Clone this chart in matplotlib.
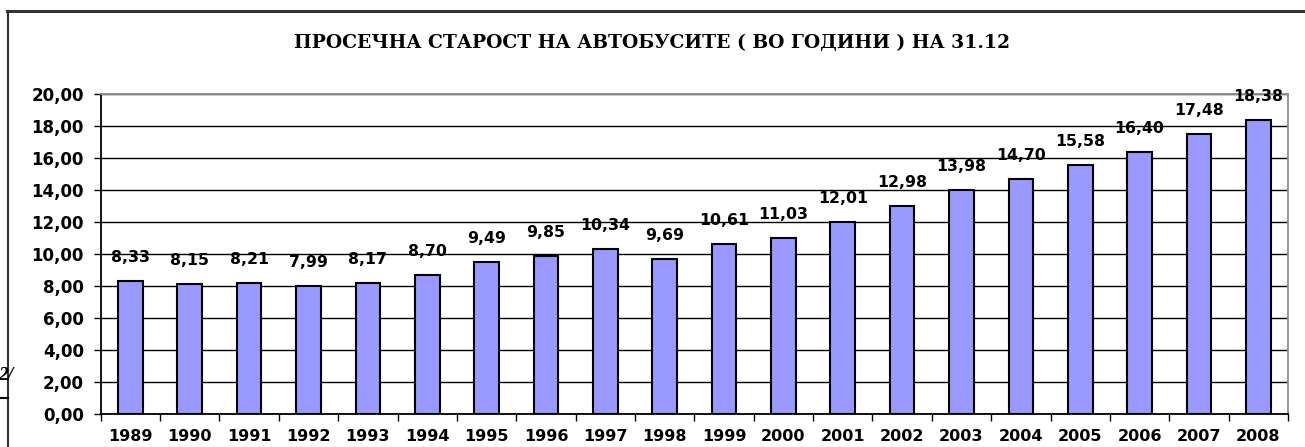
import matplotlib
matplotlib.use("Agg")
import matplotlib.pyplot as plt
from matplotlib.lines import Line2D
import numpy as np

years = ["1989", "1990", "1991", "1992", "1993", "1994", "1995", "1996", "1997", "1998",
         "1999", "2000", "2001", "2002", "2003", "2004", "2005", "2006", "2007", "2008"]
values = [8.33, 8.15, 8.21, 7.99, 8.17, 8.70, 9.49, 9.85, 10.34, 9.69,
          10.61, 11.03, 12.01, 12.98, 13.98, 14.70, 15.58, 16.40, 17.48, 18.38]
yticks = [0, 2, 4, 6, 8, 10, 12, 14, 16, 18, 20]
title = "ПРОСЕЧНА СТАРОСТ НА АВТОБУСИТЕ ( ВО ГОДИНИ ) НА 31.12"

W, H = 1305, 447
fig = plt.figure(figsize=(W / 100, H / 100), dpi=100)
fig.patch.set_facecolor("white")

ax = fig.add_axes([100.7 / W, 1 - 414 / H, (1288 - 100.7) / W, (414 - 94) / H])
x = np.arange(len(years))
bars = ax.bar(x, values, width=0.415, color="#9999FF", edgecolor="black", linewidth=1.5, zorder=3)

ax.set_xlim(-0.5, len(years) - 0.5)
ax.set_ylim(0, 20)
ax.set_yticks(yticks)
ax.set_yticklabels([f"{v:.2f}".replace(".", ",") for v in yticks],
                   fontfamily="DejaVu Sans", fontweight="bold", fontsize=12)
ax.yaxis.grid(True, color="black", linewidth=1.0, zorder=0)
ax.tick_params(axis="y", length=5, width=1, pad=7)

# category ticks at boundaries, labels at centres
ax.set_xticks(np.arange(-0.5, len(years), 1.0))
ax.set_xticklabels([])
ax.set_xticks(x, minor=True)
ax.set_xticklabels(years, minor=True, fontfamily="DejaVu Sans", fontweight="bold", fontsize=11.5)
ax.tick_params(axis="x", which="major", length=5, width=1)
ax.tick_params(axis="x", which="minor", length=0, pad=11)

for s in ["left", "bottom"]:
    ax.spines[s].set_color("black")
    ax.spines[s].set_linewidth(1.3)
for s in ["top", "right"]:
    ax.spines[s].set_color("#909090")
    ax.spines[s].set_linewidth(1.3)

for xi, v in zip(x, values):
    ax.annotate(f"{v:.2f}".replace(".", ","), (xi, v), xytext=(0, 11.5),
                textcoords="offset points", ha="center", va="bottom",
                fontfamily="DejaVu Sans", fontweight="bold", fontsize=11.3)

fig.text(652 / W, 1 - 43 / H, title, ha="center", va="center",
         fontfamily="DejaVu Serif", fontweight="bold", fontsize=13.5)

# outer frame
fig.add_artist(Line2D([7 / W, 1.0], [1 - 11 / H, 1 - 11 / H], color="#333333", linewidth=2.2))
fig.add_artist(Line2D([8 / W, 8 / W], [1 - 11 / H, 0.0], color="#333333", linewidth=1.5))
fig.add_artist(Line2D([0.0, 8 / W], [1 - 398 / H, 1 - 398 / H], color="black", linewidth=1.5))
fig.text(-2 / W, 1 - 376 / H, "2/", ha="left", va="center", fontfamily="Liberation Serif",
         fontweight="bold", fontstyle="italic", fontsize=14)

fig.savefig("out.png", dpi=100)
